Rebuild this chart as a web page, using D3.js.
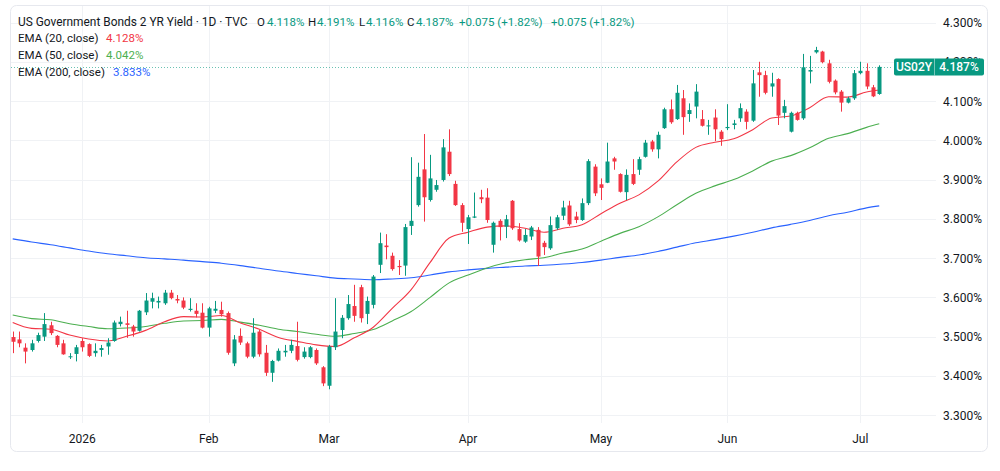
<!DOCTYPE html>
<html>
<head>
<meta charset="utf-8">
<script src="https://cdn.jsdelivr.net/npm/d3@7"></script>
<style>
  html, body { margin: 0; padding: 0; background: #ffffff; }
  svg { display: block; font-family: Roboto, "Noto Sans", sans-serif; }
</style>
</head>
<body>
<div id="chart"></div>
<script>
//Width and height
const w = 1000;
const h = 471;

// daily candles, Dec 16 2025 -> Jul 7 2026 (index 0..137)
const opens = [3.499,3.493,3.472,3.466,3.489,3.500,3.529,3.502,3.483,3.448,3.456,3.489,3.481,3.458,3.466,3.475,3.489,3.532,3.534,3.526,
  3.515,3.562,3.589,3.587,3.585,3.612,3.596,3.592,3.568,3.566,3.561,3.523,3.566,3.568,3.560,3.432,3.502,3.483,3.449,3.513,
  3.459,3.408,3.439,3.460,3.464,3.476,3.448,3.448,3.466,3.422,3.375,3.473,3.517,3.547,3.578,3.626,3.558,3.581,3.683,3.732,
  3.706,3.680,3.681,3.782,3.835,3.926,3.848,3.874,3.899,3.971,3.889,3.835,3.774,3.803,3.855,3.854,3.734,3.795,3.780,3.846,
  3.774,3.742,3.755,3.772,3.739,3.725,3.776,3.808,3.834,3.806,3.797,3.840,3.933,3.888,3.892,3.954,3.914,3.868,3.914,3.925,
  3.958,3.997,3.977,4.031,4.079,4.054,4.107,4.067,4.086,4.054,4.036,4.058,4.022,4.031,4.039,4.056,4.073,4.050,4.173,4.166,
  4.137,4.156,4.070,4.022,4.070,4.056,4.175,4.224,4.226,4.196,4.152,4.124,4.096,4.107,4.171,4.177,4.135,4.118];
const highs = [3.513,3.513,3.483,3.492,3.510,3.560,3.538,3.504,3.492,3.458,3.479,3.496,3.483,3.483,3.479,3.496,3.541,3.551,3.566,3.530,
  3.568,3.611,3.612,3.602,3.619,3.619,3.606,3.600,3.598,3.585,3.585,3.576,3.591,3.589,3.564,3.504,3.521,3.487,3.547,3.517,
  3.479,3.441,3.470,3.479,3.492,3.538,3.473,3.476,3.470,3.425,3.479,3.598,3.555,3.606,3.632,3.632,3.602,3.657,3.765,3.761,
  3.714,3.695,3.787,3.957,3.943,4.016,3.963,3.899,4.003,4.028,3.897,3.840,3.810,3.867,3.874,3.878,3.793,3.799,3.810,3.848,
  3.789,3.774,3.782,3.779,3.744,3.806,3.810,3.846,3.846,3.818,3.852,3.952,3.939,3.903,3.994,3.958,3.916,3.926,3.952,3.958,
  4.001,4.001,4.022,4.083,4.104,4.141,4.128,4.094,4.143,4.077,4.052,4.079,4.026,4.092,4.052,4.094,4.079,4.179,4.200,4.177,
  4.172,4.158,4.103,4.073,4.073,4.220,4.215,4.238,4.228,4.205,4.155,4.128,4.111,4.179,4.200,4.196,4.141,4.191];
const lows = [3.458,3.473,3.432,3.462,3.485,3.489,3.504,3.473,3.454,3.443,3.437,3.462,3.448,3.449,3.449,3.454,3.487,3.526,3.497,3.500,
  3.513,3.555,3.572,3.572,3.581,3.595,3.585,3.570,3.564,3.549,3.521,3.500,3.560,3.551,3.454,3.425,3.479,3.445,3.445,3.449,
  3.400,3.385,3.437,3.449,3.458,3.437,3.444,3.445,3.428,3.374,3.366,3.466,3.496,3.543,3.538,3.536,3.532,3.572,3.662,3.697,
  3.668,3.657,3.655,3.759,3.831,3.793,3.844,3.869,3.895,3.909,3.833,3.767,3.736,3.802,3.840,3.790,3.714,3.745,3.751,3.772,
  3.742,3.739,3.746,3.680,3.708,3.721,3.772,3.797,3.782,3.789,3.795,3.835,3.858,3.848,3.891,3.925,3.867,3.848,3.886,3.912,
  3.956,3.971,3.954,4.029,4.042,4.052,4.014,4.047,4.056,4.035,4.014,3.998,3.986,4.026,4.028,4.047,4.028,4.047,4.111,4.117,
  4.111,4.039,4.056,4.020,4.050,4.052,4.145,4.221,4.196,4.145,4.117,4.073,4.094,4.103,4.168,4.130,4.110,4.116];
const closes = [3.487,3.483,3.462,3.483,3.504,3.532,3.509,3.479,3.455,3.450,3.473,3.473,3.451,3.464,3.471,3.485,3.536,3.538,3.530,3.513,
  3.566,3.592,3.598,3.591,3.612,3.598,3.592,3.574,3.571,3.558,3.523,3.572,3.571,3.557,3.459,3.493,3.485,3.449,3.510,3.455,
  3.408,3.438,3.464,3.464,3.479,3.441,3.462,3.473,3.432,3.381,3.475,3.513,3.548,3.583,3.553,3.547,3.591,3.653,3.738,3.728,
  3.672,3.677,3.779,3.795,3.907,3.855,3.903,3.886,3.982,3.914,3.835,3.790,3.804,3.806,3.850,3.797,3.790,3.779,3.799,3.776,
  3.745,3.759,3.778,3.704,3.728,3.784,3.804,3.829,3.786,3.797,3.840,3.947,3.865,3.879,3.946,3.946,3.869,3.912,3.889,3.952,
  3.994,3.977,4.014,4.079,4.046,4.121,4.059,4.077,4.124,4.037,4.038,4.028,4.003,4.034,4.043,4.082,4.047,4.145,4.166,4.121,
  4.145,4.063,4.087,4.070,4.052,4.186,4.179,4.230,4.199,4.149,4.122,4.096,4.107,4.171,4.177,4.137,4.112,4.187];

// moving averages, every third candle
const emaIndex = [0,3,6,9,12,15,18,21,24,27,30,33,36,39,42,45,48,51,54,57,60,63,66,69,72,75,78,81,84,87,90,93,96,99,102,105,108,111,114,117,120,123,126,129,132,135,137];
const ema20 = [3.536,3.521,3.519,3.504,3.494,3.489,3.501,3.516,3.538,3.551,3.550,3.554,3.535,3.519,3.498,3.488,3.479,3.475,3.497,3.524,
  3.572,3.620,3.689,3.751,3.766,3.779,3.782,3.776,3.766,3.776,3.785,3.813,3.840,3.861,3.896,3.945,3.982,3.995,4.004,4.027,
  4.057,4.062,4.083,4.111,4.110,4.123,4.128];
const ema50 = [3.555,3.546,3.543,3.533,3.526,3.520,3.522,3.526,3.534,3.540,3.541,3.544,3.537,3.529,3.519,3.513,3.506,3.501,3.508,3.518,
  3.540,3.564,3.600,3.637,3.657,3.675,3.688,3.696,3.701,3.713,3.723,3.743,3.763,3.780,3.805,3.836,3.865,3.884,3.900,3.922,
  3.947,3.961,3.981,4.005,4.017,4.033,4.042];
const ema200 = [3.749,3.741,3.734,3.726,3.718,3.711,3.706,3.701,3.698,3.695,3.691,3.687,3.681,3.674,3.667,3.661,3.655,3.649,3.647,3.645,
  3.647,3.650,3.657,3.665,3.670,3.674,3.677,3.680,3.682,3.685,3.689,3.695,3.702,3.708,3.717,3.728,3.739,3.747,3.756,3.766,
  3.777,3.786,3.796,3.808,3.817,3.828,3.833];

// time axis
const tickIndex = [11, 31, 50, 72, 93, 113, 134];
const tickLabels = ['2026', 'Feb', 'Mar', 'Apr', 'May', 'Jun', 'Jul'];
// price axis
const priceTicks = [3.3, 3.4, 3.5, 3.6, 3.7, 3.8, 3.9, 4.0, 4.1, 4.2, 4.3];

const up = '#089981';
const down = '#f23645';
const textColor = '#131722';

const xScale = d3.scaleBand()
        .domain(d3.range(closes.length))
        .range([9.54, 882.4])
        .paddingInner(0.35)
        .paddingOuter(0.175);

const yScale = d3.scaleLinear()
        .domain([3.3, 4.3])
        .range([415.2, 22.5]);

const cx = (i) => xScale(i) + xScale.bandwidth() / 2;

//Create SVG element
const svg = d3.select('#chart')
      .append('svg')
      .attr('width', w)
      .attr('height', h);

//frame
svg.append('rect')
   .attr('x', 10.5).attr('y', 5.5)
   .attr('width', 977).attr('height', 446)
   .attr('rx', 6)
   .attr('fill', 'none')
   .attr('stroke', '#e6e8ee');

//grid
svg.append('g')
   .selectAll('line')
   .data(priceTicks)
   .enter()
   .append('line')
   .attr('x1', 11).attr('x2', 936)
   .attr('y1', d => Math.round(yScale(d)) + 0.5)
   .attr('y2', d => Math.round(yScale(d)) + 0.5)
   .attr('stroke', '#f0f2f5');

svg.append('g')
   .selectAll('line')
   .data(tickIndex)
   .enter()
   .append('line')
   .attr('x1', d => Math.round(cx(d)) + 0.5)
   .attr('x2', d => Math.round(cx(d)) + 0.5)
   .attr('y1', 6).attr('y2', 423)
   .attr('stroke', '#f0f2f5');

//last price line
svg.append('line')
   .attr('x1', 11).attr('x2', 893)
   .attr('y1', Math.round(yScale(closes[closes.length - 1])) + 0.5)
   .attr('y2', Math.round(yScale(closes[closes.length - 1])) + 0.5)
   .attr('stroke', up)
   .attr('stroke-opacity', 0.6)
   .attr('stroke-dasharray', '1 2');

//moving averages
const emaLine = (vals) => d3.line()
   .x((d, k) => cx(emaIndex[k]))
   .y(d => yScale(d))
   .curve(d3.curveMonotoneX)(vals);

[[ema200, '#2962ff'], [ema50, '#4caf50'], [ema20, '#f23645']].forEach(([vals, col]) => {
  svg.append('path')
     .attr('d', emaLine(vals))
     .attr('fill', 'none')
     .attr('stroke', col)
     .attr('stroke-width', 1.1);
});

//candles
const candles = svg.append('g')
   .selectAll('g')
   .data(closes)
   .enter()
   .append('g')
   .attr('fill', (d, i) => d >= opens[i] ? up : down)
   .attr('stroke', (d, i) => d >= opens[i] ? up : down);

candles.append('line')
   .attr('x1', (d, i) => Math.round(cx(i)) + 0.5)
   .attr('x2', (d, i) => Math.round(cx(i)) + 0.5)
   .attr('y1', (d, i) => yScale(highs[i]))
   .attr('y2', (d, i) => yScale(lows[i]))
   .attr('stroke-width', 1);

candles.append('rect')
   .attr('stroke', 'none')
   .attr('x', (d, i) => Math.round(cx(i)) - 1.5)
   .attr('width', 4)
   .attr('y', (d, i) => yScale(Math.max(d, opens[i])))
   .attr('height', (d, i) => Math.max(1, Math.abs(yScale(d) - yScale(opens[i]))));

//price axis labels (4.200% sits under the price badge, as in the original)
svg.append('g')
   .selectAll('text')
   .data(priceTicks)
   .enter()
   .append('text')
   .text(d => d.toFixed(3) + '%')
   .attr('x', 943)
   .attr('y', d => yScale(d) + 4.5)
   .attr('font-size', 12)
   .attr('fill', textColor);

//time axis labels
svg.append('g')
   .selectAll('text')
   .data(tickIndex)
   .enter()
   .append('text')
   .text((d, i) => tickLabels[i])
   .attr('x', d => cx(d))
   .attr('y', 443)
   .attr('text-anchor', 'middle')
   .attr('font-size', 12)
   .attr('fill', textColor);

//last price badge
const last = closes[closes.length - 1];
const by = yScale(last);
svg.append('rect')
   .attr('x', 894).attr('y', by - 8.5)
   .attr('width', 90).attr('height', 17)
   .attr('rx', 2)
   .attr('fill', up);
svg.append('line')
   .attr('x1', 934.5).attr('x2', 934.5)
   .attr('y1', by - 8.5).attr('y2', by + 8.5)
   .attr('stroke', '#ffffff').attr('stroke-opacity', 0.45);
svg.append('text')
   .text('US02Y')
   .attr('x', 914).attr('y', by + 4.3)
   .attr('text-anchor', 'middle')
   .attr('font-size', 12).attr('font-weight', 500)
   .attr('fill', '#ffffff');
svg.append('text')
   .text(last.toFixed(3) + '%')
   .attr('x', 959).attr('y', by + 4.3)
   .attr('text-anchor', 'middle')
   .attr('font-size', 12).attr('font-weight', 500)
   .attr('fill', '#ffffff');

//legend
const legend = [
  {x: 18, y: 25.5, t: 'US Government Bonds 2 YR Yield \u00b7 1D \u00b7 TVC', c: textColor, s: 11.9},
  {x: 257, y: 25.5, t: 'O', c: textColor},
  {x: 267, y: 25.5, t: opens[opens.length - 1].toFixed(3) + '%', c: up},
  {x: 308, y: 25.5, t: 'H', c: textColor},
  {x: 317, y: 25.5, t: highs[highs.length - 1].toFixed(3) + '%', c: up},
  {x: 359, y: 25.5, t: 'L', c: textColor},
  {x: 366, y: 25.5, t: lows[lows.length - 1].toFixed(3) + '%', c: up},
  {x: 407, y: 25.5, t: 'C', c: textColor},
  {x: 416, y: 25.5, t: last.toFixed(3) + '%', c: up},
  {x: 459, y: 25.5, t: '+0.075 (+1.82%)', c: up},
  {x: 551, y: 25.5, t: '+0.075 (+1.82%)', c: up},
  {x: 18, y: 42, t: 'EMA (20, close)', c: textColor},
  {x: 106, y: 42, t: ema20[ema20.length - 1].toFixed(3) + '%', c: '#f23645'},
  {x: 18, y: 58.5, t: 'EMA (50, close)', c: textColor},
  {x: 106, y: 58.5, t: ema50[ema50.length - 1].toFixed(3) + '%', c: '#4caf50'},
  {x: 18, y: 75.5, t: 'EMA (200, close)', c: textColor},
  {x: 113, y: 75.5, t: ema200[ema200.length - 1].toFixed(3) + '%', c: '#2962ff'}
];

svg.append('g')
   .selectAll('text')
   .data(legend)
   .enter()
   .append('text')
   .text(d => d.t)
   .attr('x', d => d.x)
   .attr('y', d => d.y)
   .attr('font-size', d => d.s || 11.5)
   .attr('fill', d => d.c);
</script>
</body>
</html>
